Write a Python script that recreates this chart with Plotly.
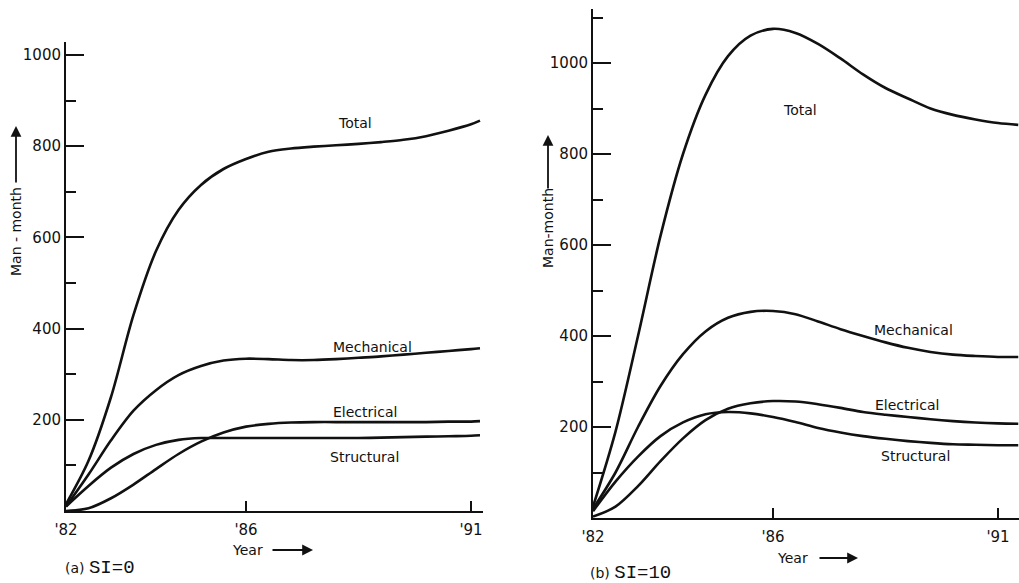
import plotly.graph_objects as go

W, H = 1019, 583

# ---------------- data ----------------
years_a = [82, 82.5, 83, 83.5, 84, 84.5, 85, 85.5, 86, 86.5, 87, 87.5, 88, 88.5, 89, 89.5, 90, 90.5, 91, 91.2]
total_a = [15, 110, 250, 430, 570, 660, 715, 750, 772, 788, 795, 799, 802, 805, 809, 814, 822, 834, 848, 856]
mech_a = [10, 80, 155, 220, 265, 298, 318, 330, 334, 333, 331, 331, 333, 336, 339, 343, 347, 351, 355, 357]
elec_a = [0, 6, 28, 58, 92, 125, 152, 172, 185, 191, 194, 195, 195, 195, 195, 195, 195, 196, 196, 197]
struct_a = [10, 55, 95, 125, 145, 156, 160, 160, 160, 160, 160, 160, 160, 160, 161, 162, 163, 164, 165, 166]

years_b = [82, 82.5, 83, 83.5, 84, 84.5, 85, 85.5, 86, 86.5, 87, 87.5, 88, 88.5, 89, 89.5, 90, 90.5, 91, 91.45]
total_b = [25, 190, 400, 620, 800, 930, 1015, 1060, 1075, 1066, 1042, 1010, 975, 945, 922, 900, 886, 876, 868, 864]
mech_b = [20, 100, 200, 290, 360, 410, 440, 453, 455, 448, 432, 415, 400, 386, 374, 365, 359, 356, 354, 354]
elec_b = [3, 25, 70, 125, 175, 215, 240, 252, 257, 256, 250, 242, 233, 227, 222, 217, 213, 210, 208, 207]
struct_b = [15, 80, 135, 180, 210, 228, 233, 230, 222, 211, 198, 188, 180, 174, 169, 165, 162, 161, 160, 160]

xtick_vals = [82, 86, 91]
xtick_text = ["'82", "'86", "'91"]
ytick_vals = [200, 400, 600, 800, 1000]
ytick_text = ["200", "400", "600", "800", "1000"]

series_names = ["Total", "Mechanical", "Electrical", "Structural"]
label_pos_a = {"Total": (88.42, 851), "Mechanical": (88.82, 360), "Electrical": (88.64, 217), "Structural": (88.64, 118)}
label_pos_b = {"Total": (86.61, 897), "Mechanical": (89.12, 413), "Electrical": (88.98, 248), "Structural": (89.16, 136)}

FONT = "DejaVu Sans"
INK = "#111111"


def px(x):
    return x / W


def py(y):
    return 1 - y / H


fig = go.Figure()
for ys in [total_a, mech_a, elec_a, struct_a]:
    fig.add_trace(go.Scatter(x=years_a, y=ys, mode="lines", xaxis="x", yaxis="y",
                             line=dict(color=INK, width=2.6, shape="spline", smoothing=0.9),
                             showlegend=False, hoverinfo="skip"))
for ys in [total_b, mech_b, elec_b, struct_b]:
    fig.add_trace(go.Scatter(x=years_b, y=ys, mode="lines", xaxis="x2", yaxis="y2",
                             line=dict(color=INK, width=2.6, shape="spline", smoothing=0.9),
                             showlegend=False, hoverinfo="skip"))

axis_common = dict(showgrid=False, zeroline=False, showline=True, linecolor=INK, linewidth=2,
                   ticks="inside", tickcolor=INK, tickwidth=2,
                   tickfont=dict(family=FONT, size=15, color=INK))

fig.update_layout(
    xaxis=dict(domain=[px(66), px(483)], range=[82, 82 + (483 - 66) / 45], anchor="y",
               tickvals=xtick_vals, ticktext=xtick_text, ticklen=10, ticklabelstandoff=4, **axis_common),
    yaxis=dict(domain=[py(511), py(42)], range=[0, (511 - 42) / 0.456], anchor="x",
               tickvals=ytick_vals, ticktext=ytick_text, ticklen=18,
               minor=dict(dtick=100, tick0=0, ticklen=10, ticks="inside", tickcolor=INK, tickwidth=2),
               **axis_common),
    xaxis2=dict(domain=[px(593), px(1019)], range=[82, 82 + (1019 - 593) / 45], anchor="y2",
                tickvals=xtick_vals, ticktext=xtick_text, ticklen=10, ticklabelstandoff=4, **axis_common),
    yaxis2=dict(domain=[py(518), py(9)], range=[0, (518 - 9) / 0.455], anchor="x2",
                tickvals=ytick_vals, ticktext=ytick_text, ticklen=18,
                minor=dict(dtick=100, tick0=0, ticklen=10, ticks="inside", tickcolor=INK, tickwidth=2),
                **axis_common),
    width=W, height=H, margin=dict(l=0, r=0, t=0, b=0, autoexpand=False),
    paper_bgcolor="white", plot_bgcolor="white",
)

ann = []
for name in series_names:
    x, y = label_pos_a[name]
    ann.append(dict(x=x, y=y, xref="x", yref="y", text=name, showarrow=False,
                    font=dict(family=FONT, size=14, color=INK)))
    x, y = label_pos_b[name]
    ann.append(dict(x=x, y=y, xref="x2", yref="y2", text=name, showarrow=False,
                    font=dict(family=FONT, size=14, color=INK)))


def txt(x, y, text, size=14, angle=0, xanchor="center"):
    return dict(x=px(x), y=py(y), xref="paper", yref="paper", text=text, textangle=angle,
                xanchor=xanchor, yanchor="middle", showarrow=False,
                font=dict(family=FONT, size=size, color=INK))


def arrow(x, y, ax, ay):
    return dict(x=px(x), y=py(y), xref="paper", yref="paper", text="", showarrow=True,
                ax=ax, ay=ay, xanchor="center", yanchor="middle",
                arrowhead=2, arrowsize=1.2, arrowwidth=1.8, arrowcolor=INK, standoff=0)


# y-axis titles (rotated) with arrows
ann.append(txt(16, 232, "Man - month", angle=-90))
ann.append(arrow(16, 126, 0, 58))
ann.append(txt(548, 228, "Man-month", angle=-90))
ann.append(arrow(548, 135, 0, 55))

# x-axis titles with arrows
ann.append(txt(230, 550, "Year", xanchor="left"))
ann.append(arrow(313, 550, -42, 0))
ann.append(txt(775, 558, "Year", xanchor="left"))
ann.append(arrow(858, 558, -40, 0))

# sub captions
ann.append(txt(63, 568, '(a) <span style="font-family:Liberation Mono;font-size:19px">SI=0</span>', size=14, xanchor="left"))
ann.append(txt(588, 573, '(b) <span style="font-family:Liberation Mono;font-size:19px">SI=10</span>', size=14, xanchor="left"))

fig.update_layout(annotations=ann)
fig.write_html("out.html")
